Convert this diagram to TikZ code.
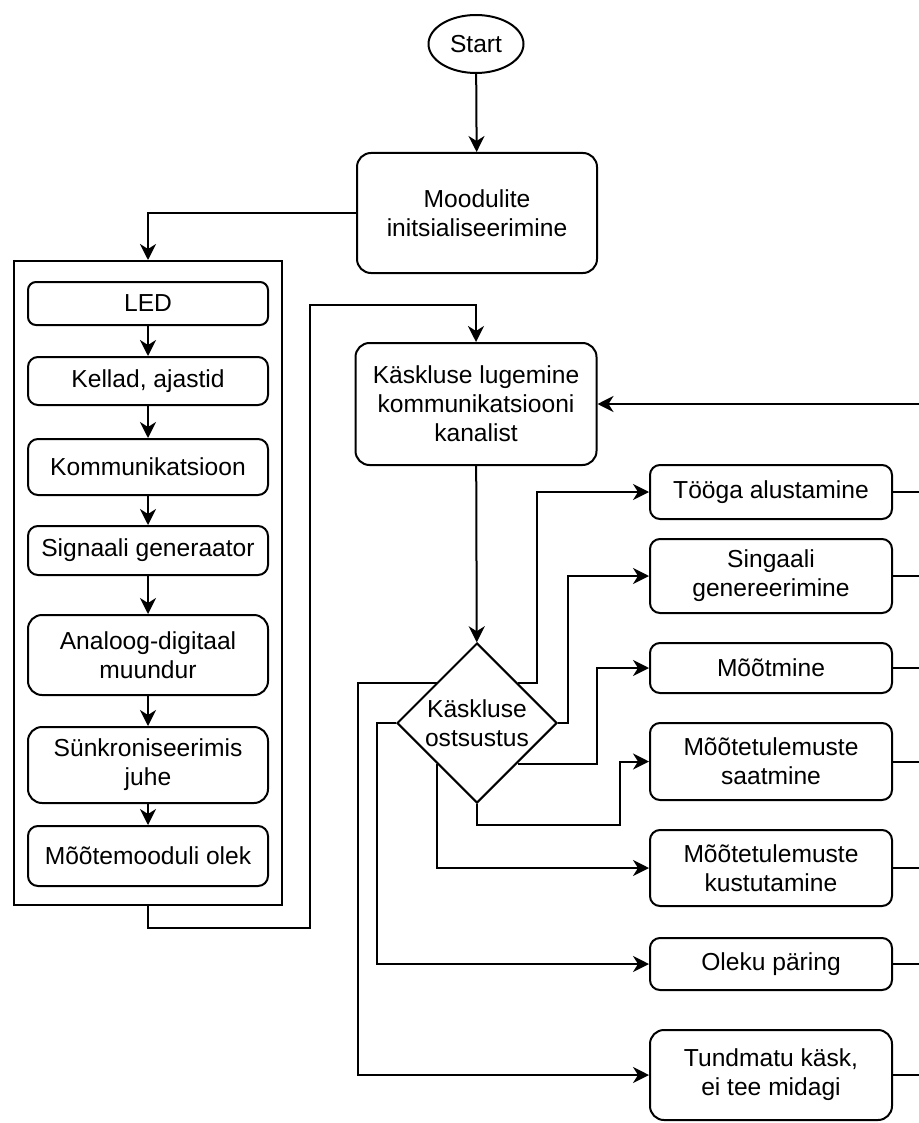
\documentclass[tikz,border=0pt]{standalone}
\usepackage{fontspec}
\setmainfont{Liberation Sans}
\usetikzlibrary{shapes.geometric,arrows.meta}

\tikzset{
  box/.style={draw, rounded corners=5pt, align=center, minimum width=120pt, inner sep=2pt},
  cmd/.style={box, minimum width=121pt},
  arr/.style={-{Stealth[length=8pt,width=8pt,inset=2.5pt]}},
}

\begin{document}
\begin{tikzpicture}[x=0.5pt, y=-0.5pt, line width=1pt, font=\fontsize{12.3}{14.6}\selectfont]
  \useasboundingbox (0,0) rectangle (919,1123);

  \node[draw, ellipse, minimum width=47.5pt, minimum height=29pt, inner sep=0pt] (start) at (476,44) {Start};
  \node[box, minimum height=60pt, rounded corners=7pt] (mod) at (477,213) {Moodulite\\initsialiseerimine};

  % moodulid
  \node[draw, minimum width=134pt, minimum height=322pt] (grp) at (148,583) {};
  \node[box, minimum height=21.5pt, rounded corners=4pt] (led) at (148,303.5) {LED};
  \node[box, minimum height=24pt] (kel) at (148,381) {Kellad, ajastid};
  \node[box, minimum height=28pt] (kom) at (148,467) {Kommunikatsioon};
  \node[box, minimum height=24.5pt] (sig) at (148,550.5) {Signaali generaator};
  \node[box, minimum height=40pt, rounded corners=7pt] (adc) at (148,655) {Analoog-digitaal\\muundur};
  \node[box, minimum height=38pt, rounded corners=7pt] (syn) at (148,765) {Sünkroniseerimis\\juhe};
  \node[box, minimum height=30pt] (ole) at (148,856) {Mõõtemooduli olek};

  % käsu töötlus
  \node[box, minimum width=120.5pt, minimum height=61pt, rounded corners=7pt] (kl) at (476,404) {Käskluse lugemine\\kommunikatsiooni\\kanalist};
  \node[draw, diamond, aspect=1, minimum width=80pt, minimum height=80pt, inner sep=0pt, align=center] (dec) at (477,723) {Käskluse\\ostsustus};

  \node[cmd, minimum height=27pt] (t1) at (771,492) {Tööga alustamine};
  \node[cmd, minimum height=37pt] (t2) at (771,576) {Singaali\\genereerimine};
  \node[cmd, minimum height=25pt] (t3) at (771,668) {Mõõtmine};
  \node[cmd, minimum height=38.5pt] (t4) at (771,761.5) {Mõõtetulemuste\\saatmine};
  \node[cmd, minimum height=38pt] (t5) at (771,868) {Mõõtetulemuste\\kustutamine};
  \node[cmd, minimum height=26pt] (t6) at (771,964) {Oleku päring};
  \node[cmd, minimum height=45pt, rounded corners=7pt] (t7) at (771,1075) {Tundmatu käsk,\\ei tee midagi};

  \coordinate (rim) at (919,0);

  \draw[arr] (start) -- (mod);
  \draw[arr] (mod.west) -| (grp.north);
  \foreach \a/\b in {led/kel, kel/kom, kom/sig, sig/adc, adc/syn, syn/ole}
    \draw[arr] (\a) -- (\b);
  \draw[arr] (grp.south) -- ++(0,22) -| (310,305) -| (kl.north);
  \draw[arr] (kl) -- (dec);

  \draw[arr] (dec.north east) -- ++(19,0) |- (t1.west);
  \draw[arr] (dec.east) -- ++(10,0) |- (t2.west);
  \draw[arr] (dec.south east) -- ++(79,0) |- (t3.west);
  \draw[arr] (dec.south) -- ++(0,21) -- ++(143,0) |- (t4.west);
  \draw[arr] (dec.south west) |- (t5.west);
  \draw[arr] (dec.west) -- ++(-19,0) |- (t6.west);
  \draw[arr] (dec.north west) -- ++(-79,0) |- (t7.west);

  \foreach \n in {t1,t2,t3,t4,t5,t6,t7}
    \draw (\n.east) -- (\n.east -| rim);
  \draw[arr] (kl.east -| rim) -- (kl.east);
\end{tikzpicture}
\end{document}
